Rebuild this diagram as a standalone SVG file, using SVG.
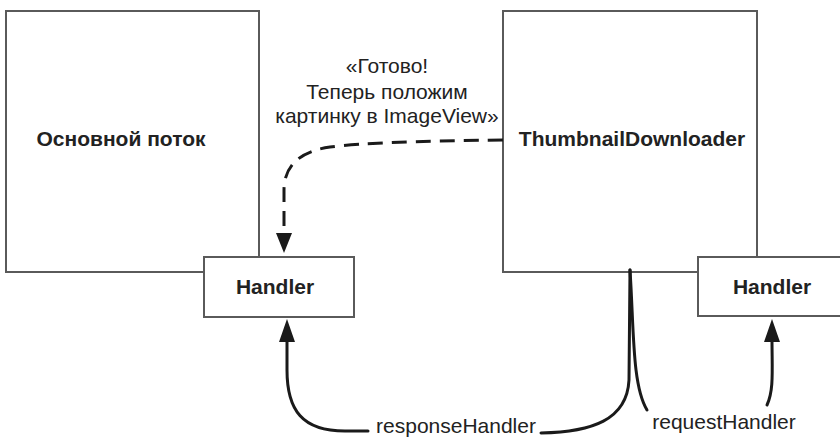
<svg xmlns="http://www.w3.org/2000/svg" width="840" height="438" viewBox="0 0 840 438">
<style>
.box{fill:#fff;stroke:#5a5a5a;stroke-width:2}
.b{font-family:"Liberation Sans",Arial,sans-serif;font-weight:bold;font-size:21px;fill:#222;text-anchor:middle}
.r{font-family:"Liberation Sans",Arial,sans-serif;font-size:21px;fill:#222;text-anchor:middle}
.c{fill:none;stroke:#1a1a1a;stroke-width:3;stroke-linecap:round}
.d{fill:none;stroke:#1a1a1a;stroke-width:3;stroke-dasharray:15 9}
.h{fill:#1a1a1a}
</style>
<rect width="840" height="438" fill="#fff"/>
<g id="main-thread">
<rect class="box" x="6" y="11" width="253" height="261"/>
<text class="b" x="121" y="146">Основной поток</text>
</g>
<g id="thumbnail-downloader">
<rect class="box" x="503" y="11" width="254" height="261"/>
<text class="b" x="632" y="146">ThumbnailDownloader</text>
</g>
<g id="handler-left">
<rect class="box" x="204" y="257" width="150" height="60"/>
<text class="b" x="275" y="294">Handler</text>
</g>
<g id="handler-right">
<rect class="box" x="698" y="257" width="160" height="59"/>
<text class="b" x="772" y="294">Handler</text>
</g>
<g id="connectors">
<path class="d" d="M503,140 C420,141 360,143 330,147 C295,152 284,170 284,190 L284,234"/>
<polygon class="h" points="284,253 276,233 292,233"/>
<path class="c" d="M368,431 L345,431 C302,431 287,410 287,370 L287,340"/>
<polygon class="h" points="287,319 279,342 295,342"/>
<path class="c" d="M541,433 C592,432 627,420 629,380 L630,270"/>
<path class="c" d="M630,270 C634,330 632,385 647,410" stroke-width="2.5"/>
<path class="c" d="M767,405 C774,390 772,370 772,340"/>
<polygon class="h" points="772,319 764,342 780,342"/>
</g>
<g id="labels">
<text class="r" x="387" y="73">«Готово!</text>
<text class="r" x="387" y="99">Теперь положим</text>
<text class="r" x="387" y="123">картинку в ImageView»</text>
<text class="r" x="456" y="433">responseHandler</text>
<text class="r" x="724" y="429">requestHandler</text>
</g>
</svg>
